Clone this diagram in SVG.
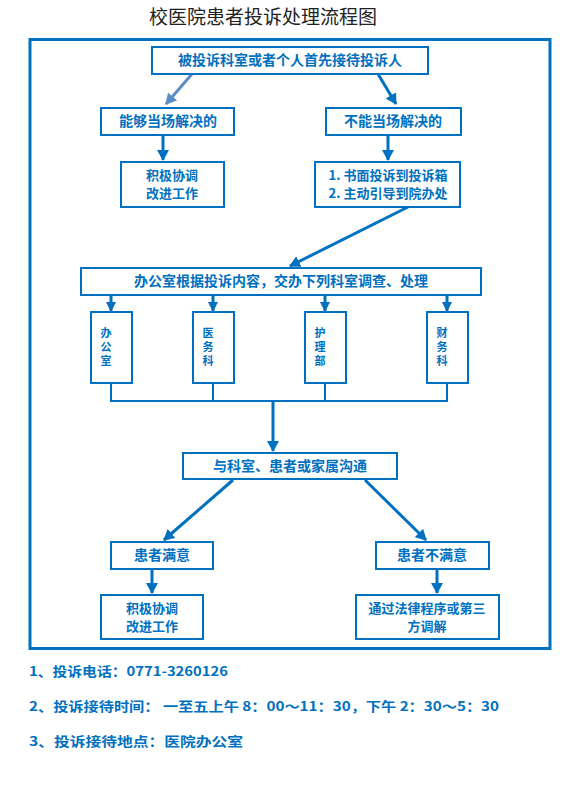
<svg xmlns="http://www.w3.org/2000/svg" width="572" height="789" viewBox="0 0 572 789">
<defs>
<marker id="ah" markerUnits="userSpaceOnUse" markerWidth="12" markerHeight="12" refX="10" refY="6" orient="auto"><path d="M0,0 L11,6 L0,12 z" fill="#0070C0"/></marker>
<marker id="ah2" markerUnits="userSpaceOnUse" markerWidth="12" markerHeight="12" refX="10" refY="6" orient="auto"><path d="M0,0 L11,6 L0,12 z" fill="#5B8CC8"/></marker>
<marker id="ahs" markerUnits="userSpaceOnUse" markerWidth="10" markerHeight="10" refX="9" refY="5" orient="auto"><path d="M0,0 L10,5 L0,10 z" fill="#0070C0"/></marker>
<style>
.box{fill:#fff;stroke:#0070C0;stroke-width:2}
.t{font-family:"Noto Sans CJK SC","Liberation Sans",sans-serif;font-size:14px;font-weight:bold;fill:#0070C0;text-anchor:middle}
.t2{font-family:"Noto Sans CJK SC","Liberation Sans",sans-serif;font-size:13px;font-weight:bold;fill:#0070C0;text-anchor:middle}
.v{font-family:"Noto Sans CJK SC","Liberation Sans",sans-serif;font-size:11px;font-weight:bold;fill:#0070C0;text-anchor:middle;writing-mode:vertical-rl;letter-spacing:3px}
.c{fill:none;stroke:#0070C0;stroke-width:3}
.l{fill:none;stroke:#0070C0;stroke-width:2}
.f{font-family:"Noto Sans CJK SC","Liberation Sans",sans-serif;font-size:13px;font-weight:bold;fill:#0070C0}
</style>
</defs>
<rect width="572" height="789" fill="#fff"/>
<text x="263" y="24" style="font-family:'Noto Sans CJK SC','Liberation Sans',sans-serif;font-size:19px;fill:#222" text-anchor="middle">校医院患者投诉处理流程图</text>
<rect x="30" y="39.5" width="520" height="609" fill="none" stroke="#0070C0" stroke-width="3"/>

<g id="connectors">
<line x1="192" y1="74" x2="166" y2="104" stroke="#5B8CC8" stroke-width="3" marker-end="url(#ah2)"/>
<line x1="378" y1="74" x2="396" y2="104" class="c" marker-end="url(#ah)"/>
<line x1="163" y1="135" x2="163" y2="160" class="c" marker-end="url(#ah)"/>
<line x1="388" y1="135" x2="388" y2="160" class="c" marker-end="url(#ah)"/>
<line x1="408" y1="207" x2="290" y2="266" class="c" marker-end="url(#ah)"/>
<line x1="111" y1="295" x2="111" y2="311" class="c" marker-end="url(#ahs)"/>
<line x1="213" y1="295" x2="213" y2="311" class="c" marker-end="url(#ahs)"/>
<line x1="325" y1="295" x2="325" y2="311" class="c" marker-end="url(#ahs)"/>
<line x1="447" y1="295" x2="447" y2="311" class="c" marker-end="url(#ahs)"/>
<path d="M111,383 V401 H447 V383 M213,383 V401 M325,383 V401" class="l"/>
<line x1="273" y1="401" x2="273" y2="451" class="c" marker-end="url(#ah)"/>
<line x1="233" y1="480" x2="164" y2="540" class="c" marker-end="url(#ah)"/>
<line x1="365" y1="480" x2="426" y2="540" class="c" marker-end="url(#ah)"/>
<line x1="152" y1="569" x2="152" y2="593" class="c" marker-end="url(#ah)"/>
<line x1="437" y1="569" x2="437" y2="593" class="c" marker-end="url(#ah)"/>
</g>

<g id="n1"><rect class="box" x="152" y="47" width="276" height="27"/><text class="t" x="290" y="65">被投诉科室或者个人首先接待投诉人</text></g>
<g id="n2"><rect class="box" x="101" y="108" width="133" height="27"/><text class="t" x="168" y="126">能够当场解决的</text></g>
<g id="n3"><rect class="box" x="326" y="108" width="135" height="27"/><text class="t" x="393" y="126">不能当场解决的</text></g>
<g id="n4"><rect class="box" x="121" y="162" width="103" height="45"/><text class="t2" x="172" y="180">积极协调</text><text class="t2" x="172" y="198">改进工作</text></g>
<g id="n5"><rect class="box" x="315" y="162" width="145" height="45"/><text class="t2" x="388" y="180">1. 书面投诉到投诉箱</text><text class="t2" x="388" y="198">2. 主动引导到院办处</text></g>
<g id="n6"><rect class="box" x="81" y="268" width="400" height="27"/><text class="t" x="281" y="286">办公室根据投诉内容，交办下列科室调查、处理</text></g>
<g id="d1"><rect class="box" x="91" y="312" width="41" height="71"/><text class="v" x="106" y="348">办公室</text></g>
<g id="d2"><rect class="box" x="193" y="312" width="41" height="71"/><text class="v" x="208" y="348">医务科</text></g>
<g id="d3"><rect class="box" x="305" y="312" width="41" height="71"/><text class="v" x="320" y="348">护理部</text></g>
<g id="d4"><rect class="box" x="427" y="312" width="41" height="71"/><text class="v" x="442" y="348">财务科</text></g>
<g id="n7"><rect class="box" x="183" y="453" width="214" height="26"/><text class="t" x="290" y="471">与科室、患者或家属沟通</text></g>
<g id="n8"><rect class="box" x="111" y="542" width="102" height="27"/><text class="t" x="162" y="560">患者满意</text></g>
<g id="n9"><rect class="box" x="376" y="542" width="113" height="27"/><text class="t" x="432" y="560">患者不满意</text></g>
<g id="n10"><rect class="box" x="101" y="595" width="102" height="44"/><text class="t2" x="152" y="613">积极协调</text><text class="t2" x="152" y="631">改进工作</text></g>
<g id="n11"><rect class="box" x="356" y="595" width="143" height="44"/><text class="t2" x="427" y="613">通过法律程序或第三</text><text class="t2" x="427" y="631">方调解</text></g>

<text class="f" x="29" y="676" textLength="199" lengthAdjust="spacingAndGlyphs">1、投诉电话：0771-3260126</text>
<text class="f" x="29" y="711" textLength="470" lengthAdjust="spacingAndGlyphs">2、投诉接待时间：  一至五上午 8：00～11：30，下午 2：30～5：30</text>
<text class="f" x="29" y="746" textLength="214" lengthAdjust="spacingAndGlyphs">3、投诉接待地点：医院办公室</text>
</svg>
